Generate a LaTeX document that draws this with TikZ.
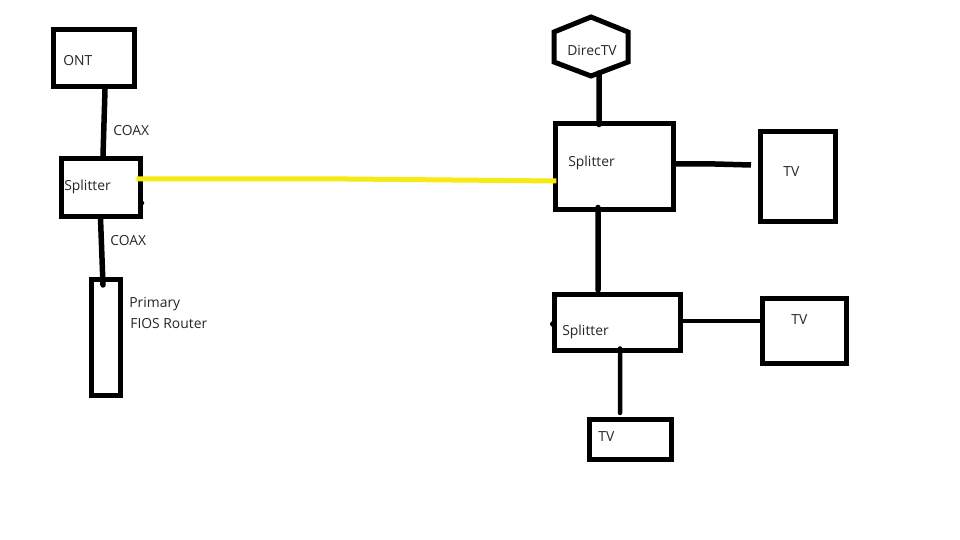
\documentclass[tikz,border=0pt]{standalone}
\usepackage{fontspec}
\setmainfont{Open Sans}
\definecolor{cableyellow}{HTML}{F6EA12}
\tikzset{
  boxnode/.style={draw=black, line width=0.1cm, fill=white, inner sep=0pt},
  textnode/.style={anchor=west, inner sep=0pt, text height=7pt, text depth=2pt, font=\fontsize{7.9pt}{9pt}\selectfont, text=black!85},
  cable/.style={line width=0.11cm, line cap=round},
  feed/.style={line width=0.1cm, color=cableyellow}
}
\begin{document}
\begin{tikzpicture}[x=0.02cm, y=-0.02cm]
  \useasboundingbox (0,0) rectangle (960,540);

  % Left side boxes
  \node[boxnode, minimum width=1.62cm, minimum height=1.16cm] (ont) at (94,58) {};
  \node[boxnode, minimum width=1.60cm, minimum height=1.16cm] (splitleft) at (101,187.5) {};
  \node[boxnode, minimum width=0.60cm, minimum height=2.34cm] (router) at (106,337.5) {};

  % Right side boxes
  \node[boxnode, minimum width=2.37cm, minimum height=1.74cm] (splittop) at (614.5,166.5) {};
  \node[boxnode, minimum width=1.50cm, minimum height=1.82cm] (tvtop) at (797.5,176.5) {};
  \node[boxnode, minimum width=2.54cm, minimum height=1.14cm] (splitlow) at (617.5,322.5) {};
  \node[boxnode, minimum width=1.68cm, minimum height=1.32cm] (tvside) at (804,331) {};
  \node[boxnode, minimum width=1.64cm, minimum height=0.82cm] (tvlow) at (630,439.5) {};

  % DirecTV hexagon
  \draw[line width=0.1cm, line join=miter] (591,17) -- (628,32) -- (628,62) -- (591,76) -- (554,62) -- (554,32) -- cycle;
  \coordinate (dishfoot) at (599,73);

  % Free cable ends
  \coordinate (tvgap) at (751,165);
  \coordinate (lowgap) at (620,413);
  \coordinate (routerend) at (103,285);
  \coordinate (uppergap) at (598,290);

  % Cables
  \draw[cable] ([xshift=0.22cm]ont.south) -- ([xshift=0.04cm]splitleft.north);
  \draw[cable] ([xshift=-0.01cm,yshift=0.02cm]splitleft.south) -- (routerend);
  \draw[cable] (dishfoot) -- ([xshift=-0.31cm,yshift=-0.08cm]splittop.north);
  \draw[cable] ([xshift=-0.33cm,yshift=0.1cm]splittop.south) -- (uppergap);
  \draw[cable, line cap=butt] ([yshift=0.05cm]splittop.east) -- (715,164) -- (tvgap);
  \draw[cable, line cap=butt, line width=0.09cm] ([yshift=0.03cm]splitlow.east) -- ([yshift=0.03cm]splitlow.east -| tvside.west);
  \draw[cable, line width=0.09cm] ([xshift=0.05cm,yshift=0.1cm]splitlow.south) -- (lowgap);

  % Yellow line between splitters
  \draw[feed] ([xshift=-0.14cm,yshift=0.17cm]splitleft.east) -- (347,179) -- ([xshift=0.07cm,yshift=-0.29cm]splittop.west);

  % Small marks on the box sides
  \fill (142,203) circle (0.045cm);
  \fill (553,324) circle (0.06cm);

  % Labels
  \node[textnode] (ontlabel) at (63,61) {ONT};
  \node[textnode] (coaxupper) at (113,131) {COAX};
  \node[textnode] (splitleftlabel) at (64,186) {Splitter};
  \node[textnode] (coaxlower) at (110,241) {COAX};
  \node[textnode] (primarylabel) at (129,303) {Primary};
  \node[textnode] (fioslabel) at (130,324) {FIOS Router};
  \node[textnode] (directvlabel) at (567,51) {DirecTV};
  \node[textnode] (splittoplabel) at (568,162) {Splitter};
  \node[textnode] (tvtoplabel) at (783,172) {TV};
  \node[textnode] (splitlowlabel) at (562,331) {Splitter};
  \node[textnode] (tvsidelabel) at (791,320) {TV};
  \node[textnode] (tvlowlabel) at (598,437) {TV};
\end{tikzpicture}
\end{document}
